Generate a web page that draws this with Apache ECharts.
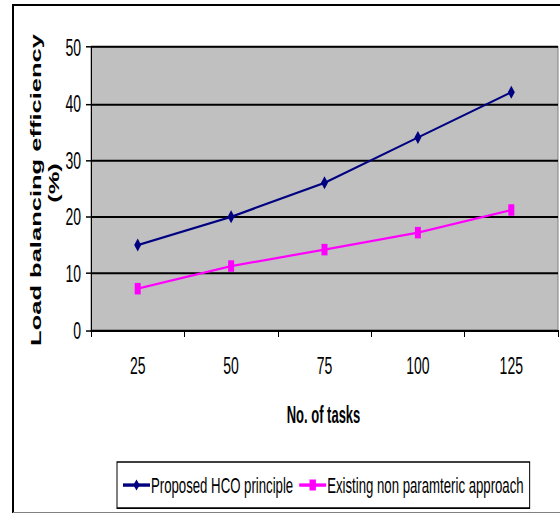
<!DOCTYPE html>
<html><head><meta charset="utf-8">
<script src="https://cdn.jsdelivr.net/npm/echarts@6/dist/echarts.min.js"></script>
<style>
html,body{margin:0;padding:0;background:#fff;overflow:hidden}
#wrap{width:560px;height:514px;overflow:hidden}
#c{width:560px;height:302px;transform-origin:0 0;transform:scaleY(1.70199)}
</style>
</head><body><div id="wrap"><div id="c"></div></div>
<script>
var categories = ['25', '50', '75', '100', '125'];
var proposedHCO = [15, 20, 26, 34, 42];
var existingNonParam = [7.3, 11.3, 14.2, 17.2, 21.2];
var seriesNames = ['Proposed HCO principle', 'Existing non paramteric approach'];
var yTitle = ['Load balancing efficiency', '(%)'];
var xTitle = 'No. of tasks';

// The reference picture is stretched vertically; the chart is drawn at a
// reduced height and stretched by CSS. Y() converts reference pixels.
var S = 514 / 302;
function Y(v) { return v / S; }

var font = "'Liberation Sans', Arial, sans-serif";
var chart = echarts.init(document.getElementById('c'), null, {renderer: 'svg', width: 560, height: 302});
chart.setOption({
  animation: false,
  backgroundColor: '#ffffff',
  grid: {left: 91, top: Y(47), right: 2, bottom: Y(184), show: true, backgroundColor: '#c0c0c0', borderColor: '#808080', borderWidth: 1},
  xAxis: {
    type: 'category', data: categories, boundaryGap: true,
    axisLine: {lineStyle: {color: '#000', width: Y(2)}},
    axisTick: {show: true, length: Y(7), lineStyle: {color: '#000', width: 1}},
    axisLabel: {color: '#000', fontFamily: font, fontSize: 14, margin: 14},
    splitLine: {show: false}
  },
  yAxis: {
    type: 'value', min: 0, max: 50, interval: 10,
    axisLine: {show: true, lineStyle: {color: '#000', width: 1}},
    axisTick: {show: true, length: 5, lineStyle: {color: '#000', width: Y(1.5)}},
    axisLabel: {color: '#000', fontFamily: font, fontSize: 14, margin: 10},
    splitLine: {show: true, lineStyle: {color: '#000', width: Y(2)}}
  },
  legend: {
    left: 117, top: Y(462), orient: 'horizontal',
    backgroundColor: '#fff', borderColor: '#000', borderWidth: 1,
    padding: [Y(12), 6, Y(12), 5], itemWidth: 27, itemHeight: 8, itemGap: 5,
    textStyle: {color: '#000', fontFamily: font, fontSize: 13.2, padding: [0, 0, 0, -4]},
    data: seriesNames
  },
  series: [
    {name: seriesNames[0], type: 'line', data: proposedHCO, color: '#000080',
     lineStyle: {width: 1.3, color: '#000080'}, symbol: 'diamond', symbolSize: [7, Y(13)],
     itemStyle: {color: '#000080'}},
    {name: seriesNames[1], type: 'line', data: existingNonParam, color: '#ff00ff',
     lineStyle: {width: 1.3, color: '#ff00ff'}, symbol: 'rect', symbolSize: [6, Y(11.5)],
     itemStyle: {color: '#ff00ff'}}
  ],
  graphic: [
    {type: 'line', shape: {x1: 13, y1: Y(5), x2: 560, y2: Y(5)}, style: {stroke: '#000', lineWidth: Y(2)}},
    {type: 'line', shape: {x1: 13, y1: Y(4), x2: 13, y2: Y(513)}, style: {stroke: '#000', lineWidth: 2}},
    {type: 'line', shape: {x1: 13, y1: Y(512.5), x2: 560, y2: Y(512.5)}, style: {stroke: '#808080', lineWidth: Y(1)}},
    {type: 'text', x: 36, y: Y(190), rotation: Math.PI / 2,
     style: {text: yTitle[0], fontFamily: font, fontWeight: 'bold', fontSize: 15, fill: '#000', align: 'center', verticalAlign: 'middle'}},
    {type: 'text', x: 54, y: Y(183), rotation: Math.PI / 2,
     style: {text: yTitle[1], fontFamily: font, fontWeight: 'bold', fontSize: 15, fill: '#000', align: 'center', verticalAlign: 'middle'}},
    {type: 'text', x: 323.5, y: Y(414), scaleX: 1, scaleY: 1.12,
     style: {text: xTitle, fontFamily: font, fontWeight: 'bold', fontSize: 13, fill: '#000', align: 'center', verticalAlign: 'middle'}}
  ]
});
</script></body></html>
